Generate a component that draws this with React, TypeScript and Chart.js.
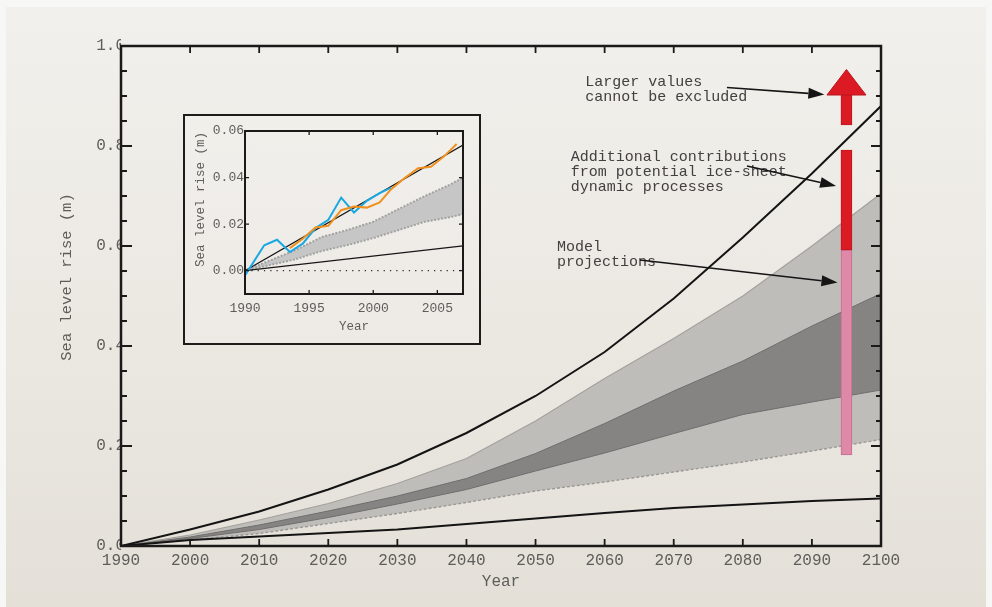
import React, { useEffect, useRef } from 'react';
import { Chart, registerables } from 'chart.js';

Chart.register(...registerables);

// ---------------- Main chart data ----------------
const YEARS = [1990, 2000, 2010, 2020, 2030, 2040, 2050, 2060, 2070, 2080, 2090, 2100];
const UPPER_CURVE = [0, 0.033, 0.069, 0.113, 0.163, 0.226, 0.300, 0.388, 0.495, 0.617, 0.745, 0.880];
const LOWER_CURVE = [0, 0.012, 0.019, 0.026, 0.033, 0.044, 0.055, 0.066, 0.076, 0.083, 0.090, 0.095];
const LIGHT_UPPER = [0, 0.022, 0.052, 0.085, 0.125, 0.175, 0.250, 0.335, 0.415, 0.500, 0.600, 0.705];
const DARK_UPPER = [0, 0.018, 0.042, 0.070, 0.100, 0.135, 0.185, 0.245, 0.310, 0.370, 0.440, 0.505];
const DARK_LOWER = [0, 0.015, 0.033, 0.057, 0.084, 0.113, 0.150, 0.186, 0.225, 0.263, 0.288, 0.312];
const LIGHT_LOWER = [0, 0.012, 0.025, 0.045, 0.065, 0.087, 0.110, 0.128, 0.148, 0.168, 0.190, 0.213];

const BAR_YEAR = 2095;
const PINK_BAR = [0.182, 0.592];
const RED_BAR = [0.592, 0.792];
const ARROW_SHAFT = [0.842, 0.905];
const ARROW_HEAD = [0.902, 0.953]; // base, tip

const X_TICKS = [1990, 2000, 2010, 2020, 2030, 2040, 2050, 2060, 2070, 2080, 2090, 2100];
const Y_TICKS = [0, 0.2, 0.4, 0.6, 0.8, 1.0];
const Y_MINOR_TICKS = [0.05, 0.1, 0.15, 0.25, 0.3, 0.35, 0.45, 0.5, 0.55, 0.65, 0.7, 0.75, 0.85, 0.9, 0.95];

const ANNOTATIONS = [
  { lines: ['Larger values', 'cannot be excluded'], textX: 2057.2, textY: 0.928, from: [2077.7, 0.917], to: [2091.8, 0.903] },
  { lines: ['Additional contributions', 'from potential ice-sheet', 'dynamic processes'], textX: 2055.1, textY: 0.778, from: [2080.6, 0.760], to: [2093.5, 0.720] },
  { lines: ['Model', 'projections'], textX: 2053.1, textY: 0.598, from: [2065.1, 0.572], to: [2093.7, 0.527] },
];

// ---------------- Inset data ----------------
const INSET_BLUE_YEARS = [1990.0, 1991.5, 1992.5, 1993.5, 1994.5, 1995.5, 1996.5, 1997.5, 1998.5, 1999.5, 2000.5, 2001.4];
const INSET_BLUE = [-0.002, 0.0109, 0.0133, 0.008, 0.0116, 0.0183, 0.0219, 0.0314, 0.025, 0.030, 0.0333, 0.0357];
const INSET_ORANGE_YEARS = [1993.5, 1994.5, 1995.5, 1996.5, 1997.5, 1998.5, 1999.5, 2000.5, 2001.4, 2002.5, 2003.5, 2004.5, 2005.5, 2006.5];
const INSET_ORANGE = [0.0097, 0.0137, 0.0186, 0.0193, 0.026, 0.0276, 0.0271, 0.0293, 0.035, 0.040, 0.044, 0.0446, 0.049, 0.0544];
const INSET_LINE_YEARS = [1990, 2007];
const INSET_UPPER_LINE = [0, 0.054];
const INSET_LOWER_LINE = [0, 0.0107];
const INSET_BAND_YEARS = [1990, 1992, 1994, 1996, 1998, 2000, 2002, 2004, 2006, 2007];
const INSET_BAND_UPPER = [0, 0.0045, 0.009, 0.0145, 0.0175, 0.021, 0.0265, 0.032, 0.037, 0.040];
const INSET_BAND_LOWER = [0, 0.0025, 0.005, 0.0085, 0.011, 0.014, 0.0175, 0.021, 0.023, 0.0243];
const INSET_ZERO_YEARS = [1990, 2006.5];
const INSET_ZERO = [0, 0];
const INSET_X_TICKS = [1990, 1995, 2000, 2005];
const INSET_Y_TICKS = [0, 0.02, 0.04, 0.06];

// ---------------- Styles ----------------
const FONT = '"Liberation Mono", "Courier New", monospace';
const TEXT = '#5f5d5a';
const FRAME = '#1c1a18';
const RED = '#dc1a24';
const PINK = '#df88a8';

const pts = (xs: number[], ys: number[]) => xs.map((x, i) => ({ x, y: ys[i] }));

function arrow(ctx: CanvasRenderingContext2D, x1: number, y1: number, x2: number, y2: number) {
  const ang = Math.atan2(y2 - y1, x2 - x1);
  const len = 16, hw = 5.5;
  const bx = x2 - len * Math.cos(ang), by = y2 - len * Math.sin(ang);
  ctx.beginPath();
  ctx.moveTo(x1, y1);
  ctx.lineTo(bx, by);
  ctx.stroke();
  ctx.beginPath();
  ctx.moveTo(x2, y2);
  ctx.lineTo(bx + hw * Math.sin(ang), by - hw * Math.cos(ang));
  ctx.lineTo(bx - hw * Math.sin(ang), by + hw * Math.cos(ang));
  ctx.closePath();
  ctx.fill();
}

const mainDecor = {
  id: 'mainDecor',
  afterDatasetsDraw(chart: any) {
    const { ctx, chartArea: a, scales } = chart;
    const x = scales.x, y = scales.y;
    ctx.save();
    // arrow head on top bar
    const cx = x.getPixelForValue(BAR_YEAR);
    const base = y.getPixelForValue(ARROW_HEAD[0]);
    const tip = y.getPixelForValue(ARROW_HEAD[1]);
    ctx.fillStyle = RED;
    ctx.strokeStyle = '#b8141c';
    ctx.lineWidth = 1;
    ctx.beginPath();
    ctx.moveTo(cx - 19.5, base);
    ctx.lineTo(cx, tip);
    ctx.lineTo(cx + 19.5, base);
    ctx.closePath();
    ctx.fill();
    ctx.stroke();

    // frame
    ctx.strokeStyle = FRAME;
    ctx.lineWidth = 2.5;
    ctx.strokeRect(a.left, a.top, a.right - a.left, a.bottom - a.top);

    // ticks
    ctx.lineWidth = 1.8;
    ctx.beginPath();
    X_TICKS.forEach((v) => {
      const px = x.getPixelForValue(v);
      ctx.moveTo(px, a.bottom); ctx.lineTo(px, a.bottom - 7);
      ctx.moveTo(px, a.top); ctx.lineTo(px, a.top + 7);
    });
    Y_TICKS.forEach((v) => {
      const py = y.getPixelForValue(v);
      ctx.moveTo(a.left, py); ctx.lineTo(a.left + 11, py);
      ctx.moveTo(a.right, py); ctx.lineTo(a.right - 10, py);
    });
    Y_MINOR_TICKS.forEach((v) => {
      const py = y.getPixelForValue(v);
      ctx.moveTo(a.left, py); ctx.lineTo(a.left + 6, py);
      ctx.moveTo(a.right, py); ctx.lineTo(a.right - 5, py);
    });
    ctx.stroke();

    // annotations
    ctx.font = `15px ${FONT}`;
    ctx.textBaseline = 'middle';
    ctx.textAlign = 'left';
    ANNOTATIONS.forEach((an) => {
      const tx = x.getPixelForValue(an.textX);
      const ty = y.getPixelForValue(an.textY);
      ctx.fillStyle = '#434140';
      an.lines.forEach((ln, i) => ctx.fillText(ln, tx, ty + i * 15));
      ctx.strokeStyle = '#151515';
      ctx.fillStyle = '#151515';
      ctx.lineWidth = 1.6;
      arrow(ctx,
        x.getPixelForValue(an.from[0]), y.getPixelForValue(an.from[1]),
        x.getPixelForValue(an.to[0]), y.getPixelForValue(an.to[1]));
    });

    // y axis title
    ctx.save();
    ctx.translate(a.left - 54, (a.top + a.bottom) / 2 - 19);
    ctx.rotate(-Math.PI / 2);
    ctx.textAlign = 'center';
    ctx.fillStyle = TEXT;
    ctx.font = `15.5px ${FONT}`;
    ctx.fillText('Sea level rise (m)', 0, 0);
    ctx.restore();
    ctx.restore();
  },
};

const insetDecor = {
  id: 'insetDecor',
  afterDatasetsDraw(chart: any) {
    const { ctx, chartArea: a, scales } = chart;
    const x = scales.x, y = scales.y;
    ctx.save();
    ctx.strokeStyle = FRAME;
    ctx.lineWidth = 2;
    ctx.strokeRect(a.left, a.top, a.right - a.left, a.bottom - a.top);
    ctx.lineWidth = 1.3;
    ctx.beginPath();
    INSET_X_TICKS.forEach((v) => {
      const px = x.getPixelForValue(v);
      ctx.moveTo(px, a.bottom); ctx.lineTo(px, a.bottom - 4);
      ctx.moveTo(px, a.top); ctx.lineTo(px, a.top + 4);
    });
    INSET_Y_TICKS.forEach((v) => {
      const py = y.getPixelForValue(v);
      ctx.moveTo(a.left, py); ctx.lineTo(a.left + 4, py);
      ctx.moveTo(a.right, py); ctx.lineTo(a.right - 4, py);
    });
    ctx.stroke();
    ctx.translate(a.left - 44, (a.top + a.bottom) / 2 - 13);
    ctx.rotate(-Math.PI / 2);
    ctx.textAlign = 'center';
    ctx.textBaseline = 'middle';
    ctx.fillStyle = TEXT;
    ctx.font = `12.5px ${FONT}`;
    ctx.fillText('Sea level rise (m)', 0, 0);
    ctx.restore();
  },
};

function mainConfig(): any {
  const lineDs = (data: number[], extra: any = {}) => ({
    type: 'line',
    data: pts(YEARS, data),
    pointRadius: 0,
    tension: 0,
    fill: false,
    ...extra,
  });
  const barDs = (range: number[], color: string, border: string) => ({
    type: 'bar',
    data: [{ x: BAR_YEAR, y: range }],
    backgroundColor: color,
    borderColor: border,
    borderWidth: 1,
    borderSkipped: false,
    barThickness: 11,
    grouped: false,
  });
  return {
    type: 'line',
    data: {
      datasets: [
        barDs(ARROW_SHAFT, RED, '#c0161e'),
        barDs(RED_BAR, RED, '#c0161e'),
        barDs(PINK_BAR, PINK, '#c46d90'),
        lineDs(UPPER_CURVE, { borderColor: '#141414', borderWidth: 2 }),
        lineDs(LOWER_CURVE, { borderColor: '#141414', borderWidth: 2 }),
        lineDs(DARK_UPPER, { borderColor: '#6f6e6c', borderWidth: 1, fill: '+1', backgroundColor: '#858482' }),
        lineDs(DARK_LOWER, { borderColor: '#6f6e6c', borderWidth: 1 }),
        lineDs(LIGHT_UPPER, { borderColor: '#a3a19d', borderWidth: 1.2, fill: '+1', backgroundColor: '#bfbdb9' }),
        lineDs(LIGHT_LOWER, { borderColor: '#9a9894', borderWidth: 1.4, borderDash: [3, 2] }),
      ],
    },
    options: {
      responsive: false,
      animation: false,
      events: [],
      layout: { padding: { left: 0, right: 111, top: 46, bottom: 0 } },
      plugins: {
        legend: { display: false },
        tooltip: { enabled: false },
        filler: { drawTime: 'beforeDatasetsDraw' },
      },
      scales: {
        x: {
          type: 'linear',
          min: 1990,
          max: 2100,
          offset: false,
          grid: { display: false, drawTicks: false },
          border: { display: false },
          afterBuildTicks: (s: any) => { s.ticks = X_TICKS.map((value) => ({ value })); },
          afterFit: (s: any) => { s.height = 61; },
          ticks: {
            autoSkip: false,
            maxRotation: 0,
            padding: 5,
            color: TEXT,
            font: { family: FONT, size: 16, lineHeight: 1.2 },
            callback: (v: any) => String(v),
          },
          title: {
            display: true,
            text: 'Year',
            color: TEXT,
            font: { family: FONT, size: 16, lineHeight: 1.2 },
            padding: { top: 0, bottom: 16 },
          },
        },
        y: {
          type: 'linear',
          min: 0,
          max: 1,
          grid: { display: false, drawTicks: false },
          border: { display: false },
          afterBuildTicks: (s: any) => { s.ticks = Y_TICKS.map((value) => ({ value })); },
          afterFit: (s: any) => { s.width = 121; },
          ticks: {
            autoSkip: false,
            padding: -4,
            color: TEXT,
            font: { family: FONT, size: 16, lineHeight: 1.2 },
            callback: (v: any) => Number(v).toFixed(1),
          },
        },
      },
    },
    plugins: [mainDecor],
  };
}

function insetConfig(): any {
  return {
    type: 'line',
    data: {
      datasets: [
        { data: pts(INSET_ORANGE_YEARS, INSET_ORANGE), borderColor: '#f0901e', borderWidth: 2, pointRadius: 0, tension: 0, fill: false },
        { data: pts(INSET_BLUE_YEARS, INSET_BLUE), borderColor: '#1aa8e2', borderWidth: 2, pointRadius: 0, tension: 0, fill: false },
        { data: pts(INSET_LINE_YEARS, INSET_UPPER_LINE), borderColor: '#161616', borderWidth: 1.3, pointRadius: 0, fill: false },
        { data: pts(INSET_LINE_YEARS, INSET_LOWER_LINE), borderColor: '#161616', borderWidth: 1.3, pointRadius: 0, fill: false },
        { data: pts(INSET_BAND_YEARS, INSET_BAND_UPPER), borderColor: '#a2a2a2', borderWidth: 2, borderDash: [2, 1.5], pointRadius: 0, tension: 0, fill: '+1', backgroundColor: '#c6c6c6' },
        { data: pts(INSET_BAND_YEARS, INSET_BAND_LOWER), borderColor: '#a2a2a2', borderWidth: 2, borderDash: [2, 1.5], pointRadius: 0, tension: 0, fill: false },
        { data: pts(INSET_ZERO_YEARS, INSET_ZERO), borderColor: '#333333', borderWidth: 1.3, borderDash: [1.3, 5], pointRadius: 0, fill: false },
      ],
    },
    options: {
      responsive: false,
      animation: false,
      events: [],
      layout: { padding: { left: 0, right: 16, top: 15, bottom: 0 } },
      plugins: {
        legend: { display: false },
        tooltip: { enabled: false },
        filler: { drawTime: 'beforeDatasetsDraw' },
      },
      scales: {
        x: {
          type: 'linear',
          min: 1990,
          max: 2007,
          offset: false,
          grid: { display: false, drawTicks: false },
          border: { display: false },
          afterBuildTicks: (s: any) => { s.ticks = INSET_X_TICKS.map((value) => ({ value })); },
          afterFit: (s: any) => { s.height = 49; },
          ticks: {
            autoSkip: false,
            maxRotation: 0,
            padding: 7,
            color: TEXT,
            font: { family: FONT, size: 13, lineHeight: 1.2 },
            callback: (v: any) => String(v),
          },
          title: {
            display: true,
            text: 'Year',
            color: TEXT,
            font: { family: FONT, size: 12.5, lineHeight: 1.2 },
            padding: { top: 0, bottom: 9 },
          },
        },
        y: {
          type: 'linear',
          min: -0.01,
          max: 0.06,
          grid: { display: false, drawTicks: false },
          border: { display: false },
          afterBuildTicks: (s: any) => { s.ticks = INSET_Y_TICKS.map((value) => ({ value })); },
          afterFit: (s: any) => { s.width = 60; },
          ticks: {
            autoSkip: false,
            padding: 1,
            color: TEXT,
            font: { family: FONT, size: 13, lineHeight: 1.2 },
            callback: (v: any) => Number(v).toFixed(2),
          },
        },
      },
    },
    plugins: [insetDecor],
  };
}

export default function App() {
  const mainRef = useRef<HTMLCanvasElement>(null);
  const insetRef = useRef<HTMLCanvasElement>(null);
  useEffect(() => {
    const main = new Chart(mainRef.current as HTMLCanvasElement, mainConfig());
    const inset = new Chart(insetRef.current as HTMLCanvasElement, insetConfig());
    return () => {
      main.destroy();
      inset.destroy();
    };
  }, []);
  return (
    <div style={{ position: 'absolute', left: 0, top: 0, width: 992, height: 607, background: '#f7f7f5', overflow: 'hidden' }}>
      <div
        style={{
          position: 'absolute', left: 6, top: 7, width: 980, height: 600,
          background: 'linear-gradient(180deg, #f1f0ec 0%, #ebe8e2 55%, #e4e0d8 100%)',
        }}
      />
      <canvas ref={mainRef} width={992} height={607} style={{ position: 'absolute', left: 0, top: 0, width: 992, height: 607 }} />
      <div
        style={{
          position: 'absolute', left: 183, top: 114, width: 298, height: 231,
          boxSizing: 'border-box', border: '2px solid #1e1c1a', background: 'rgba(255,255,255,0.12)',
        }}
      >
        <canvas ref={insetRef} width={294} height={227} style={{ position: 'absolute', left: 0, top: 0, width: 294, height: 227 }} />
      </div>
    </div>
  );
}
